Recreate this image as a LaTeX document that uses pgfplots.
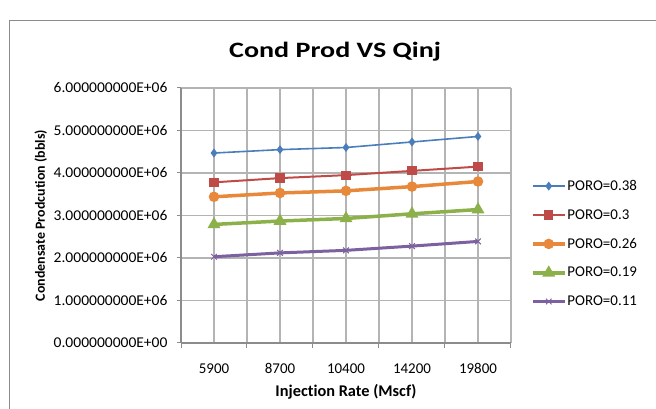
\documentclass[border=0pt]{standalone}
\usepackage{fontspec}
\setmainfont{Carlito}[Ligatures=NoCommon]
\newfontfamily\titlefont{Carlito}[FakeStretch=1.28, Ligatures=NoCommon]
\newfontfamily\yticfont{Carlito}[FakeStretch=1.04]
\usepackage{pgfplots}
\pgfplotsset{compat=1.18}

\definecolor{sblue}{HTML}{4A7EBB}
\definecolor{sred}{HTML}{BE4B48}
\definecolor{sorange}{HTML}{E8883A}
\definecolor{sgreen}{HTML}{8CB04A}
\definecolor{spurple}{HTML}{7D60A0}
\definecolor{gridgray}{HTML}{B4B4B4}
\definecolor{axisgray}{HTML}{8C8C8C}

\begin{document}
\begin{tikzpicture}
\useasboundingbox (0,0) rectangle (656bp,409bp);
\draw[axisgray, line width=1bp] (9bp,-10bp) -- (9bp,388bp) -- (680bp,388bp);

\begin{axis}[
    at={(181bp,66bp)}, anchor=south west,
    scale only axis,
    width=330bp, height=255bp,
    xmin=-0.5, xmax=4.5,
    ymin=0, ymax=6e6,
    xtick={0,1,2,3,4},
    xticklabels={5900,8700,10400,14200,19800},
    minor xtick={-0.5,0.5,1.5,2.5,3.5,4.5},
    major x tick style={draw=none},
    ytick={0,1e6,2e6,3e6,4e6,5e6,6e6},
    yticklabels={0.000000000E+00,1.000000000E+06,2.000000000E+06,3.000000000E+06,4.000000000E+06,5.000000000E+06,6.000000000E+06},
    scaled y ticks=false,
    /pgf/number format/assume math mode=true,
    xmajorgrids, xminorgrids, ymajorgrids,
    grid style={gridgray, line width=1.2bp},
    minor grid style={gridgray, line width=1.2bp},
    axis line style={axisgray, line width=1.2bp},
    axis x line*=bottom, axis y line*=left,
    tick align=outside,
    minor tick length=5bp, major tick length=4bp,
    tick style={axisgray, line width=1bp},
    minor tick style={axisgray, line width=1bp},
    xticklabel style={font=\fontsize{15}{17}\selectfont, yshift=-13bp},
    yticklabel style={font=\yticfont\fontsize{15}{17}\selectfont, xshift=-6bp},
    title={Cond Prod VS Qinj},
    title style={font=\titlefont\bfseries\fontsize{22}{25}\selectfont, at={(axis description cs:0.467,1.12)}, anchor=center},
    xlabel={Injection Rate (Mscf)},
    xlabel style={font=\bfseries\fontsize{16.4}{18}\selectfont, at={(axis description cs:0.5,-0.19)}, anchor=center},
    ylabel={Condensate Prodcution (bbls)},
    ylabel style={font=\bfseries\fontsize{14}{16}\selectfont, at={(axis description cs:-0.425,0.5)}, anchor=center},
    legend style={at={(axis description cs:1.06,0.643)}, anchor=north west, draw=none, fill=none,
        font=\fontsize{15}{17}\selectfont, row sep=15.5bp, inner sep=0pt,
        nodes={inner sep=1bp}},
    legend cell align=left,
    legend image code/.code={\draw[mark repeat=2, mark phase=2] plot coordinates {(0bp,0bp) (16bp,0bp) (32bp,0bp)};},
]
\addplot[sblue, line width=1.6bp, mark=diamond*, mark size=3.2bp, mark options={solid}]
    coordinates {(0,4.47e6) (1,4.55e6) (2,4.60e6) (3,4.73e6) (4,4.86e6)};
\addlegendentry{PORO=0.38}
\addplot[sred, line width=2bp, mark=square*, mark size=3.6bp]
    coordinates {(0,3.78e6) (1,3.88e6) (2,3.95e6) (3,4.05e6) (4,4.15e6)};
\addlegendentry{PORO=0.3}
\addplot[sorange, line width=3.5bp, mark=*, mark size=3.4bp]
    coordinates {(0,3.44e6) (1,3.53e6) (2,3.58e6) (3,3.68e6) (4,3.80e6)};
\addlegendentry{PORO=0.26}
\addplot[sgreen, line width=3.5bp, mark=triangle*, mark size=4bp]
    coordinates {(0,2.79e6) (1,2.87e6) (2,2.93e6) (3,3.04e6) (4,3.14e6)};
\addlegendentry{PORO=0.19}
\addplot[spurple, line width=3bp, mark=x, mark size=4bp, mark options={line width=1bp}]
    coordinates {(0,2.03e6) (1,2.12e6) (2,2.18e6) (3,2.28e6) (4,2.39e6)};
\addlegendentry{PORO=0.11}
\end{axis}
\end{tikzpicture}
\end{document}
